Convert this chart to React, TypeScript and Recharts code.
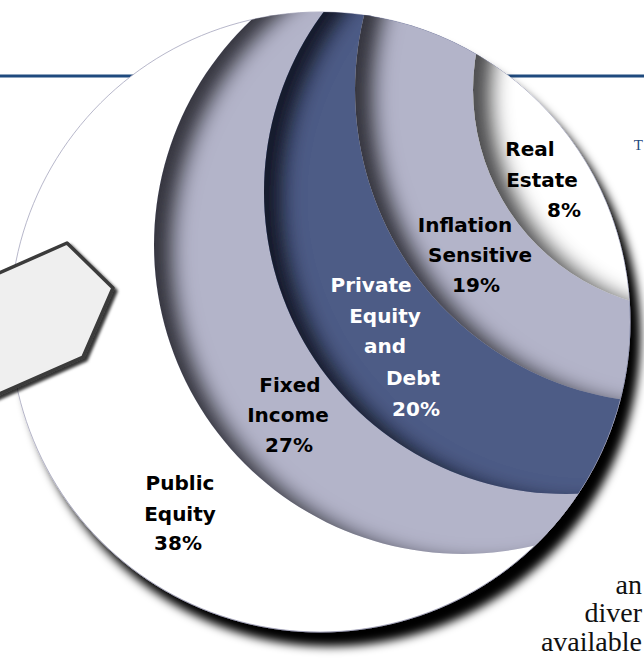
import { PieChart, Pie, Cell } from 'recharts';

const segments = ['Public Equity', 'Fixed Income', 'Private Equity and Debt', 'Inflation Sensitive', 'Real Estate'];
const shares = [38, 27, 20, 19, 8];
const labelLines = [
  ['Public', 'Equity'],
  ['Fixed', 'Income'],
  ['Private', 'Equity', 'and', 'Debt'],
  ['Inflation', 'Sensitive'],
  ['Real', 'Estate'],
];
const bodyText = ['an', 'diver', 'available'];

// stacked discs, back to front (slide layout)
const discs = [
  { cx: 320, cy: 322, r: 310, fill: '#ffffff' },
  { cx: 463, cy: 245, r: 309, fill: '#b3b4c9' },
  { cx: 566, cy: 192, r: 302, fill: '#4d5b86' },
  { cx: 668, cy: 90, r: 313, fill: '#b3b4c9' },
  { cx: 693, cy: 90, r: 220, fill: '#ffffff' },
];

// label line anchors (centre x, baseline y)
const labelPos = [
  [[180, 490], [180, 521], [178, 550]],
  [[290, 392], [288, 422], [289, 452]],
  [[371, 292], [385, 323], [385, 353], [413, 385], [416, 416]],
  [[465, 232], [480, 262], [476, 292]],
  [[530, 156], [542, 187], [564, 217]],
];
const labelColor = ['#000', '#000', '#fff', '#000', '#000'];

const W = 644;
const H = 667;
const font = '"DejaVu Sans", Verdana, sans-serif';
const serif = '"Liberation Serif", "Times New Roman", serif';

function makeLabel(i: number) {
  return () => {
    const lines = [...labelLines[i], `${shares[i]}%`];
    return (
      <text fontFamily={font} fontWeight="bold" fontSize={20} fill={labelColor[i]} textAnchor="middle">
        {lines.map((t, k) => (
          <tspan key={k} x={labelPos[i][k][0]} y={labelPos[i][k][1]}>
            {t}
          </tspan>
        ))}
      </text>
    );
  };
}

export default function App() {
  const outer = discs[0];
  return (
    <div style={{ position: 'absolute', left: 0, top: 0, width: W, height: H, background: '#fff' }}>
      <svg width={W} height={H} style={{ position: 'absolute', left: 0, top: 0 }}>
        <defs>
          <filter id="dropShadow" x="-10%" y="-10%" width="125%" height="125%">
            <feGaussianBlur in="SourceAlpha" stdDeviation="5" />
            <feOffset dx="10" dy="14" result="blur" />
            <feFlood floodColor="#000" floodOpacity="1" />
            <feComposite in2="blur" operator="in" result="shadow" />
            <feMerge>
              <feMergeNode in="shadow" />
              <feMergeNode in="SourceGraphic" />
            </feMerge>
          </filter>
          <filter id="innerShadow" x="-10%" y="-10%" width="120%" height="120%">
            <feOffset in="SourceAlpha" dx="22" dy="6" result="off" />
            <feGaussianBlur in="off" stdDeviation="9" result="blur" />
            <feComposite in="SourceAlpha" in2="blur" operator="out" result="rim" />
            <feFlood floodColor="#0b0d16" floodOpacity="0.92" />
            <feComposite in2="rim" operator="in" result="shadow" />
            <feMerge>
              <feMergeNode in="SourceGraphic" />
              <feMergeNode in="shadow" />
            </feMerge>
          </filter>
          <filter id="tabShadow" x="-20%" y="-20%" width="150%" height="150%">
            <feGaussianBlur in="SourceAlpha" stdDeviation="1.5" />
            <feOffset dx="3" dy="3" result="b" />
            <feFlood floodColor="#000" floodOpacity="0.8" />
            <feComposite in2="b" operator="in" result="s" />
            <feMerge>
              <feMergeNode in="s" />
              <feMergeNode in="SourceGraphic" />
            </feMerge>
          </filter>
          <clipPath id="outerClip">
            <circle cx={outer.cx} cy={outer.cy} r={outer.r} />
          </clipPath>
        </defs>
        <line x1={0} y1={76} x2={W} y2={76} stroke="#1f4a7e" strokeWidth={3} />
        <text x={643} y={150} textAnchor="end" fontFamily={serif} fontSize={15} fill="#1f4a7e">
          T
        </text>
      </svg>

      <div style={{ position: 'absolute', left: 0, top: 0 }}>
        <PieChart width={W} height={H} margin={{ top: 0, right: 0, bottom: 0, left: 0 }}>
          {discs.map((d, i) => (
            <Pie
              key={segments[i]}
              data={[{ name: segments[i], value: shares[i] }]}
              dataKey="value"
              nameKey="name"
              cx={d.cx}
              cy={d.cy}
              innerRadius={0}
              outerRadius={d.r}
              startAngle={90}
              endAngle={-270}
              stroke={i === 0 ? '#a4a4bc' : 'none'}
              strokeWidth={i === 0 ? 0.8 : 0}
              label={makeLabel(i)}
              labelLine={false}
              isAnimationActive={false}
            >
              <Cell
                fill={d.fill}
                filter={i === 0 ? 'url(#dropShadow)' : 'url(#innerShadow)'}
                clipPath={i === 0 ? undefined : 'url(#outerClip)'}
              />
            </Pie>
          ))}
        </PieChart>
      </div>

      <svg width={W} height={H} style={{ position: 'absolute', left: 0, top: 0, pointerEvents: 'none' }}>
        <polygon
          points="-10,277 67,243 113,288 83,357 -10,398"
          fill="#efefef"
          stroke="#3a3a3a"
          strokeWidth={3.5}
          strokeLinejoin="round"
          filter="url(#tabShadow)"
        />
        {bodyText.map((t, k) => (
          <text
            key={t}
            x={642}
            y={[594, 622, 651][k]}
            textAnchor="end"
            fontFamily={serif}
            fontSize={28}
            fill="#111"
          >
            {t}
          </text>
        ))}
      </svg>
    </div>
  );
}
